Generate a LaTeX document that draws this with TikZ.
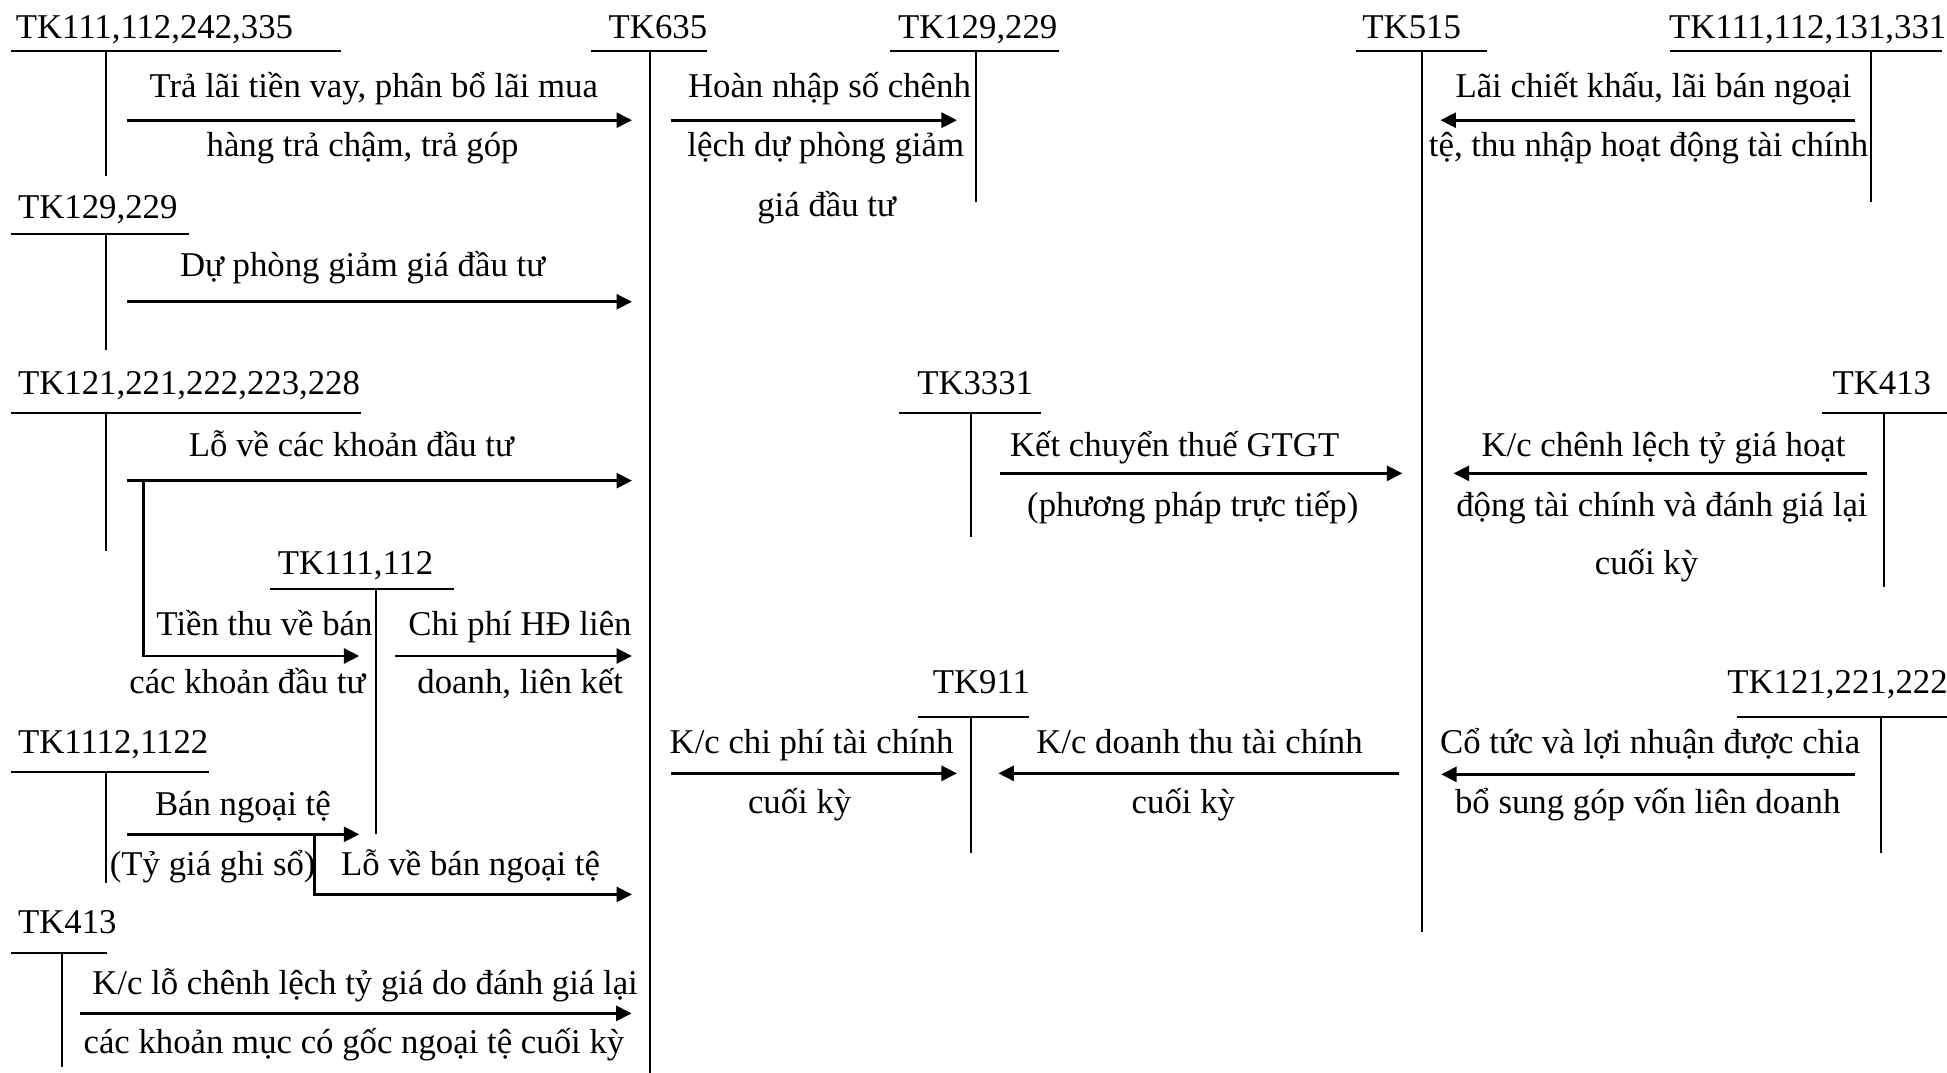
\documentclass[tikz,border=0pt]{standalone}
\usepackage{fontspec}
\setmainfont{Liberation Serif}
\usetikzlibrary{arrows.meta}
\newcommand\TAcct[9]{%
  \node[acct] (#1) at (#3,#4) {#2};
  \coordinate (#1-l) at (#5,#7);
  \coordinate (#1-r) at (#6,#7);
  \coordinate (#1-t) at (#8,#7);
  \coordinate (#1-b) at (#8,#9);
  \draw[tline] (#1-l) -- (#1-r);
  \draw[tline] (#1-t) -- (#1-b);
}
\begin{document}
\begin{tikzpicture}[x=1pt,y=-1pt,
  lbl/.style={font=\fontsize{28}{34}\selectfont, inner sep=0pt, anchor=base},
  acct/.style={font=\fontsize{28}{34}\selectfont, inner sep=0pt, anchor=base west},
  tline/.style={line width=1.6pt},
  flow/.style={line width=2.4pt, -{Triangle[length=12.5pt,width=12pt]}},
  link/.style={line width=2.4pt}]
\useasboundingbox (0,0) rectangle (1568,864);

% ---- T accounts ----
\TAcct{A1}{TK111,112,242,335}{12.6}{31}{9}{275}{40.8}{85.5}{141.5}
\TAcct{A635}{TK635}{490}{31}{476}{569}{40.8}{523.3}{864}
\TAcct{A129t}{TK129,229}{723}{31}{717}{853}{40.8}{786.3}{162.4}
\TAcct{A515}{TK515}{1097}{31}{1092}{1197.5}{40.8}{1145.3}{750.3}
\TAcct{A331}{TK111,112,131,331}{1344}{31}{1344.7}{1563.7}{40.8}{1506.5}{162.4}
\TAcct{A129b}{TK129,229}{14.4}{175.8}{9}{152}{188.7}{85.5}{281.9}
\TAcct{A121}{TK121,221,222,223,228}{14.4}{318}{9}{290.5}{332.9}{85.5}{443.5}
\TAcct{A3331}{TK3331}{738.5}{318}{724}{838.4}{332.9}{781.6}{432.2}
\TAcct{A413r}{TK413}{1475.6}{318}{1467.4}{1568}{332.9}{1517.1}{472.5}
\TAcct{A112}{TK111,112}{223.6}{463}{217.5}{366}{474.6}{303.1}{671.9}
\TAcct{A911}{TK911}{751}{558.4}{739.2}{828.4}{577.2}{781.6}{686.7}
\TAcct{A121r}{TK121,221,222}{1391}{558.4}{1398.6}{1568}{577.2}{1514.8}{686.7}
\TAcct{A1112}{TK1112,1122}{14.4}{606.7}{9}{168.3}{621.5}{85.5}{710.9}
\TAcct{A413l}{TK413}{14.4}{751.7}{9}{86.3}{767.2}{50.3}{859}

% ---- flow end points ----
\coordinate (f1s) at (102.5,96.8);  \coordinate (f1e) at (509,96.8);
\coordinate (f2s) at (540.7,96.8);  \coordinate (f2e) at (770.7,96.8);
\coordinate (f3s) at (1494,96.8);   \coordinate (f3e) at (1160,96.8);
\coordinate (f4s) at (102.5,243);   \coordinate (f4e) at (509,243);
\coordinate (f5s) at (102.5,387.1); \coordinate (f5e) at (509,387.1);
\coordinate (f6s) at (115.8,387.1); \coordinate (f6m) at (115.8,528.3); \coordinate (f6e) at (289.4,528.3);
\coordinate (f7s) at (318.2,528.3); \coordinate (f7e) at (509,528.3);
\coordinate (f8s) at (805,381.2);   \coordinate (f8e) at (1129.4,381.2);
\coordinate (f9s) at (1503.8,381.2); \coordinate (f9e) at (1170.6,381.2);
\coordinate (f10s) at (540.7,622.8); \coordinate (f10e) at (770.7,622.8);
\coordinate (f11s) at (1126.7,622.8); \coordinate (f11e) at (804,622.8);
\coordinate (f12s) at (1494,623.6); \coordinate (f12e) at (1160.6,623.6);
\coordinate (f13s) at (102.5,671.9); \coordinate (f13e) at (289.4,671.9);
\coordinate (f14s) at (253.5,671.9); \coordinate (f14m) at (253.5,720.3); \coordinate (f14e) at (509,720.3);
\coordinate (f15s) at (64.7,816.1); \coordinate (f15e) at (508.7,816.1);

\draw[flow] (f1s) -- (f1e);
\draw[flow] (f2s) -- (f2e);
\draw[flow] (f3s) -- (f3e);
\draw[flow] (f4s) -- (f4e);
\draw[flow] (f5s) -- (f5e);
\draw[flow] (f6s) -- (f6m) -- (f6e);
\draw[flow] (f7s) -- (f7e);
\draw[flow] (f8s) -- (f8e);
\draw[flow] (f9s) -- (f9e);
\draw[flow] (f10s) -- (f10e);
\draw[flow] (f11s) -- (f11e);
\draw[flow] (f12s) -- (f12e);
\draw[flow] (f13s) -- (f13e);
\draw[flow] (f14s) -- (f14m) -- (f14e);
\draw[flow] (f15s) -- (f15e);

% ---- labels ----
\node[lbl] (t1a) at (301,78.2) {Trả lãi tiền vay, phân bổ lãi mua};
\node[lbl] (t1b) at (292,126.2) {hàng trả chậm, trả góp};
\node[lbl] (t2a) at (668,78.2) {Hoàn nhập số chênh};
\node[lbl] (t2b) at (665,126.2) {lệch dự phòng giảm};
\node[lbl] (t2c) at (665.7,174.5) {giá đầu tư};
\node[lbl] (t3a) at (1331.6,78.2) {Lãi chiết khấu, lãi bán ngoại};
\node[lbl] (t3b) at (1327.7,126.2) {tệ, thu nhập hoạt động tài chính};
\node[lbl] (t4a) at (292,222.8) {Dự phòng giảm giá đầu tư};
\node[lbl] (t5a) at (283,367.8) {Lỗ về các khoản đầu tư};
\node[lbl] (t6a) at (213,511.4) {Tiền thu về bán};
\node[lbl] (t6b) at (199.2,558.4) {các khoản đầu tư};
\node[lbl] (t7a) at (418.8,511.4) {Chi phí HĐ liên};
\node[lbl] (t7b) at (419,558.4) {doanh, liên kết};
\node[lbl] (t8a) at (946,367.8) {Kết chuyển thuế GTGT};
\node[lbl] (t8b) at (960.6,416) {(phương pháp trực tiếp)};
\node[lbl] (t9a) at (1339.7,367.8) {K/c chênh lệch tỷ giá hoạt};
\node[lbl] (t9b) at (1338.4,416) {động tài chính và đánh giá lại};
\node[lbl] (t9c) at (1326,463) {cuối kỳ};
\node[lbl] (t10a) at (653.6,606.7) {K/c chi phí tài chính};
\node[lbl] (t10b) at (644,655) {cuối kỳ};
\node[lbl] (t11a) at (966,606.7) {K/c doanh thu tài chính};
\node[lbl] (t11b) at (953,655) {cuối kỳ};
\node[lbl] (t12a) at (1328.9,606.7) {Cổ tức và lợi nhuận được chia};
\node[lbl] (t12b) at (1327,655) {bổ sung góp vốn liên doanh};
\node[lbl] (t13a) at (195.6,656.4) {Bán ngoại tệ};
\node[lbl] (t13b) at (171.3,704.7) {(Tỷ giá ghi sổ)};
\node[lbl] (t14a) at (379,704.7) {Lỗ về bán ngoại tệ};
\node[lbl] (t15a) at (294,801.3) {K/c lỗ chênh lệch tỷ giá do đánh giá lại};
\node[lbl] (t15b) at (285,848.3) {các khoản mục có gốc ngoại tệ cuối kỳ};
\end{tikzpicture}
\end{document}
